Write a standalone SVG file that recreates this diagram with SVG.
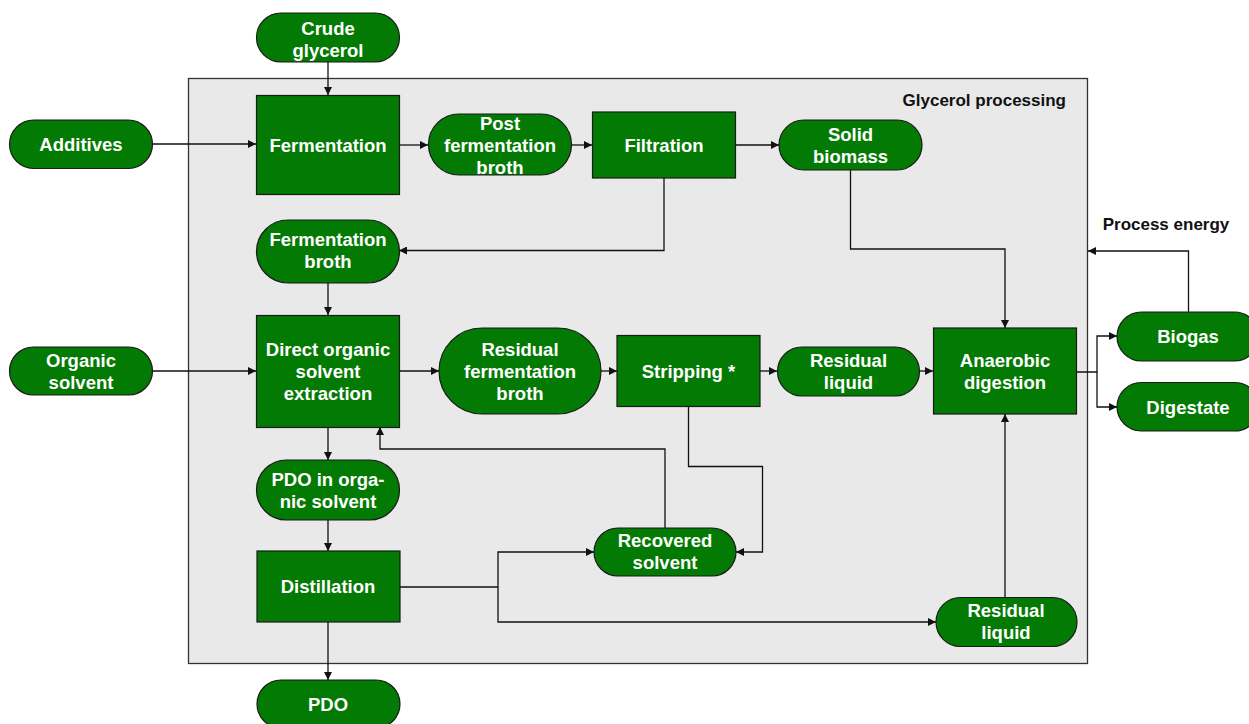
<svg xmlns="http://www.w3.org/2000/svg" width="1249" height="724" viewBox="0 0 1249 724">
<style>
.n{fill:#037a03;stroke:#1a1a1a;stroke-width:1.2}
.t{font-family:"Liberation Sans",Arial,sans-serif;font-weight:bold;font-size:18.5px;fill:#fff;text-anchor:middle}
.l{font-family:"Liberation Sans",Arial,sans-serif;font-weight:bold;font-size:17px;fill:#111}
.c{fill:none;stroke:#111;stroke-width:1.3}
</style>
<defs>
<marker id="a" viewBox="0 0 10 10" refX="10" refY="5" markerWidth="8" markerHeight="8" markerUnits="userSpaceOnUse" orient="auto">
<path d="M0,0 L10,5 L0,10 z" fill="#111"/>
</marker>
</defs>
<rect x="0" y="0" width="1249" height="724" fill="#fff"/>
<g id="panel">
<rect x="188.5" y="78.5" width="899" height="585" fill="#e9e9e9" stroke="#333" stroke-width="1.3"/>
<text class="l" x="1066" y="106" text-anchor="end">Glycerol processing</text>
</g>
<text class="l" x="1166" y="230" text-anchor="middle">Process energy</text>
<g id="connectors">
<path class="c" marker-end="url(#a)" d="M328,62 V95"/>
<path class="c" marker-end="url(#a)" d="M152,144 H256"/>
<path class="c" marker-end="url(#a)" d="M400,145 H428"/>
<path class="c" marker-end="url(#a)" d="M571,145 H592"/>
<path class="c" marker-end="url(#a)" d="M736,145 H779"/>
<path class="c" marker-end="url(#a)" d="M664,178 V250.5 H399"/>
<path class="c" marker-end="url(#a)" d="M850.5,170 V249 H1005 V328"/>
<path class="c" marker-end="url(#a)" d="M328,283 V315"/>
<path class="c" marker-end="url(#a)" d="M152,371 H256"/>
<path class="c" marker-end="url(#a)" d="M400,371 H439"/>
<path class="c" marker-end="url(#a)" d="M601,371 H617"/>
<path class="c" marker-end="url(#a)" d="M760,371 H777"/>
<path class="c" marker-end="url(#a)" d="M919,371 H933"/>
<path class="c" marker-end="url(#a)" d="M688.5,407 V466.5 H762.5 V552 H736"/>
<path class="c" marker-end="url(#a)" d="M665,528 V449 H380 V427"/>
<path class="c" marker-end="url(#a)" d="M328,427 V460"/>
<path class="c" marker-end="url(#a)" d="M328,520 V551"/>
<path class="c" marker-end="url(#a)" d="M400,587 H498 V552 H594"/>
<path class="c" marker-end="url(#a)" d="M498,587 V622 H936"/>
<path class="c" marker-end="url(#a)" d="M1005,597 V414"/>
<path class="c" marker-end="url(#a)" d="M328,622 V680"/>
<path class="c" marker-end="url(#a)" d="M1077,372 H1097 V336 H1117"/>
<path class="c" marker-end="url(#a)" d="M1097,372 V407 H1117"/>
<path class="c" marker-end="url(#a)" d="M1188.5,312 V251 H1088"/>
</g>
<g id="crude-glycerol"><rect class="n" x="256.5" y="13" width="143" height="49" rx="24.5"/><text class="t" x="328" y="34.5">Crude</text><text class="t" x="328" y="56.5">glycerol</text></g>
<g id="additives"><rect class="n" x="9.5" y="120" width="143" height="48.5" rx="24.25"/><text class="t" x="81" y="150.5">Additives</text></g>
<g id="fermentation"><rect class="n" x="256.5" y="95.5" width="143" height="99"/><text class="t" x="328" y="151.5">Fermentation</text></g>
<g id="post-fermentation-broth"><rect class="n" x="428.5" y="114" width="143" height="61" rx="30.5"/><text class="t" x="500" y="129.5">Post</text><text class="t" x="500" y="151.5">fermentation</text><text class="t" x="500" y="173.5">broth</text></g>
<g id="filtration"><rect class="n" x="592.5" y="112" width="143" height="66"/><text class="t" x="664" y="151.5">Filtration</text></g>
<g id="solid-biomass"><rect class="n" x="779" y="120" width="143" height="50" rx="25"/><text class="t" x="850.5" y="140.5">Solid</text><text class="t" x="850.5" y="162.5">biomass</text></g>
<g id="fermentation-broth"><rect class="n" x="256.5" y="220" width="143" height="63" rx="31.5"/><text class="t" x="328" y="246">Fermentation</text><text class="t" x="328" y="268">broth</text></g>
<g id="organic-solvent"><rect class="n" x="9.5" y="347" width="143" height="48" rx="24"/><text class="t" x="81" y="366.5">Organic</text><text class="t" x="81" y="388.5">solvent</text></g>
<g id="extraction"><rect class="n" x="256.5" y="315.5" width="143" height="112"/><text class="t" x="328" y="355.5">Direct organic</text><text class="t" x="328" y="377.5">solvent</text><text class="t" x="328" y="399.5">extraction</text></g>
<g id="residual-fermentation-broth"><rect class="n" x="439" y="328" width="162" height="86" rx="43"/><text class="t" x="520" y="355.5">Residual</text><text class="t" x="520" y="377.5">fermentation</text><text class="t" x="520" y="399.5">broth</text></g>
<g id="stripping"><rect class="n" x="617" y="335.5" width="143" height="71"/><text class="t" x="688.5" y="377.5">Stripping *</text></g>
<g id="residual-liquid-1"><rect class="n" x="777.5" y="347" width="142" height="49" rx="24.5"/><text class="t" x="848.5" y="366.5">Residual</text><text class="t" x="848.5" y="388.5">liquid</text></g>
<g id="anaerobic-digestion"><rect class="n" x="933.5" y="328" width="143" height="86"/><text class="t" x="1005" y="367">Anaerobic</text><text class="t" x="1005" y="389">digestion</text></g>
<g id="biogas"><rect class="n" x="1117" y="312" width="142" height="49" rx="24.5"/><text class="t" x="1188" y="343">Biogas</text></g>
<g id="digestate"><rect class="n" x="1117" y="382.5" width="142" height="48.5" rx="24.25"/><text class="t" x="1188" y="413.5">Digestate</text></g>
<g id="pdo-in-organic-solvent"><rect class="n" x="256.5" y="460" width="143" height="60" rx="30"/><text class="t" x="328" y="486">PDO in orga-</text><text class="t" x="328" y="508">nic solvent</text></g>
<g id="recovered-solvent"><rect class="n" x="594" y="528" width="142" height="48" rx="24"/><text class="t" x="665" y="547">Recovered</text><text class="t" x="665" y="569">solvent</text></g>
<g id="distillation"><rect class="n" x="257" y="551" width="143" height="71"/><text class="t" x="328" y="593">Distillation</text></g>
<g id="residual-liquid-2"><rect class="n" x="936" y="597.5" width="141" height="49" rx="24.5"/><text class="t" x="1006" y="617">Residual</text><text class="t" x="1006" y="639">liquid</text></g>
<g id="pdo"><rect class="n" x="257" y="680" width="143" height="48" rx="24"/><text class="t" x="328" y="711">PDO</text></g>
</svg>
